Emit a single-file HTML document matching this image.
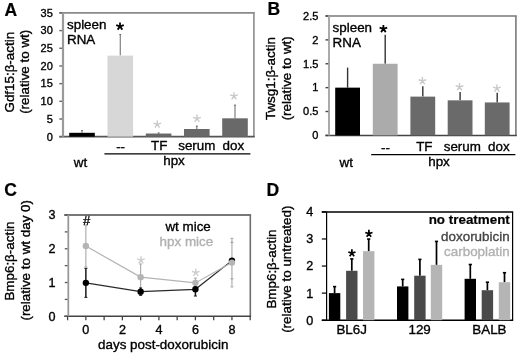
<!DOCTYPE html>
<html><head><meta charset="utf-8"><style>
html,body{margin:0;padding:0;background:#fff;overflow:hidden;}
body{filter:grayscale(1);}
svg{display:block;font-family:"Liberation Sans", sans-serif;}
</style></head><body>
<svg width="520" height="355" viewBox="0 0 520 355">
<rect width="520" height="355" fill="#fff"/>
<text transform="translate(4.4 15.6)" font-size="17.5" font-weight="bold" stroke="#000" stroke-width="0.2">A</text>
<line x1="59.30" y1="12.90" x2="254.80" y2="12.90" stroke="#8a8a8a" stroke-width="1.7"/>
<line x1="253.90" y1="12.90" x2="253.90" y2="136.70" stroke="#999" stroke-width="1.8"/>
<line x1="59.30" y1="136.70" x2="254.80" y2="136.70" stroke="#555" stroke-width="1.7"/>
<line x1="63.00" y1="12.90" x2="63.00" y2="136.70" stroke="#9a9a9a" stroke-width="2.2"/>
<line x1="59.30" y1="136.70" x2="62.00" y2="136.70" stroke="#666" stroke-width="1.4"/>
<text transform="translate(52.8 140.5)" font-size="11" text-anchor="end" stroke="#000" stroke-width="0.35">0</text>
<line x1="59.30" y1="119.01" x2="62.00" y2="119.01" stroke="#666" stroke-width="1.4"/>
<text transform="translate(52.8 122.8142857142857)" font-size="11" text-anchor="end" stroke="#000" stroke-width="0.35">5</text>
<line x1="59.30" y1="101.33" x2="62.00" y2="101.33" stroke="#666" stroke-width="1.4"/>
<text transform="translate(52.8 105.12857142857142)" font-size="11" text-anchor="end" stroke="#000" stroke-width="0.35">10</text>
<line x1="59.30" y1="83.64" x2="62.00" y2="83.64" stroke="#666" stroke-width="1.4"/>
<text transform="translate(52.8 87.44285714285714)" font-size="11" text-anchor="end" stroke="#000" stroke-width="0.35">15</text>
<line x1="59.30" y1="65.96" x2="62.00" y2="65.96" stroke="#666" stroke-width="1.4"/>
<text transform="translate(52.8 69.75714285714285)" font-size="11" text-anchor="end" stroke="#000" stroke-width="0.35">20</text>
<line x1="59.30" y1="48.27" x2="62.00" y2="48.27" stroke="#666" stroke-width="1.4"/>
<text transform="translate(52.8 52.07142857142857)" font-size="11" text-anchor="end" stroke="#000" stroke-width="0.35">25</text>
<line x1="59.30" y1="30.59" x2="62.00" y2="30.59" stroke="#666" stroke-width="1.4"/>
<text transform="translate(52.8 34.385714285714286)" font-size="11" text-anchor="end" stroke="#000" stroke-width="0.35">30</text>
<line x1="59.30" y1="12.90" x2="62.00" y2="12.90" stroke="#666" stroke-width="1.4"/>
<text transform="translate(52.8 16.700000000000006)" font-size="11" text-anchor="end" stroke="#000" stroke-width="0.35">35</text>
<line x1="82.00" y1="130.19" x2="82.00" y2="132.81" stroke="#858585" stroke-width="1.25"/>
<line x1="81.10" y1="130.59" x2="82.90" y2="130.59" stroke="#666" stroke-width="1.0"/>
<rect x="69.20" y="132.81" width="25.60" height="3.89" fill="#000"/>
<line x1="120.30" y1="34.19" x2="120.30" y2="55.59" stroke="#858585" stroke-width="1.25"/>
<line x1="119.40" y1="34.59" x2="121.20" y2="34.59" stroke="#666" stroke-width="1.0"/>
<rect x="107.50" y="55.59" width="25.60" height="81.11" fill="#d7d7d7"/>
<line x1="158.60" y1="132.60" x2="158.60" y2="133.52" stroke="#858585" stroke-width="1.25"/>
<line x1="157.70" y1="133.00" x2="159.50" y2="133.00" stroke="#666" stroke-width="1.0"/>
<rect x="145.80" y="133.52" width="25.60" height="3.18" fill="#696969"/>
<line x1="196.80" y1="125.81" x2="196.80" y2="128.99" stroke="#858585" stroke-width="1.25"/>
<line x1="195.90" y1="126.21" x2="197.70" y2="126.21" stroke="#666" stroke-width="1.0"/>
<rect x="184.00" y="128.99" width="25.60" height="7.71" fill="#696969"/>
<line x1="235.00" y1="104.76" x2="235.00" y2="118.31" stroke="#858585" stroke-width="1.25"/>
<line x1="234.10" y1="105.16" x2="235.90" y2="105.16" stroke="#666" stroke-width="1.0"/>
<rect x="222.20" y="118.31" width="25.60" height="18.39" fill="#696969"/>
<path d="M120.00,26.38L120.00,22.38M120.00,26.38L123.80,25.14M120.00,26.38L122.35,29.62M120.00,26.38L117.65,29.62M120.00,26.38L116.20,25.14" stroke="#000" stroke-width="1.75" fill="none"/>
<path d="M157.30,124.38L157.30,120.38M157.30,124.38L161.10,123.14M157.30,124.38L159.65,127.62M157.30,124.38L154.95,127.62M157.30,124.38L153.50,123.14" stroke="#c8c8c8" stroke-width="1.35" fill="none"/>
<path d="M197.00,118.58L197.00,114.58M197.00,118.58L200.80,117.34M197.00,118.58L199.35,121.82M197.00,118.58L194.65,121.82M197.00,118.58L193.20,117.34" stroke="#c8c8c8" stroke-width="1.35" fill="none"/>
<path d="M234.00,96.18L234.00,92.18M234.00,96.18L237.80,94.94M234.00,96.18L236.35,99.42M234.00,96.18L231.65,99.42M234.00,96.18L230.20,94.94" stroke="#c8c8c8" stroke-width="1.35" fill="none"/>
<text transform="translate(67.0 28.5)" font-size="13.4" stroke="#000" stroke-width="0.35">spleen</text>
<text transform="translate(67.0 43.7)" font-size="13.4" stroke="#000" stroke-width="0.35">RNA</text>
<text transform="translate(120.6 150.5)" font-size="13.4" text-anchor="middle" stroke="#000" stroke-width="0.35">--</text>
<text transform="translate(159.2 150.3)" font-size="13.4" text-anchor="middle" stroke="#000" stroke-width="0.35">TF</text>
<text transform="translate(196.8 150.3)" font-size="13.4" text-anchor="middle" stroke="#000" stroke-width="0.35">serum</text>
<text transform="translate(233.3 150.3)" font-size="13.4" text-anchor="middle" stroke="#000" stroke-width="0.35">dox</text>
<line x1="104.40" y1="153.80" x2="250.40" y2="153.80" stroke="#000" stroke-width="1.3"/>
<text transform="translate(80.5 166.7)" font-size="13.4" text-anchor="middle" stroke="#000" stroke-width="0.35">wt</text>
<text transform="translate(174.0 165.4)" font-size="13.4" text-anchor="middle" stroke="#000" stroke-width="0.35">hpx</text>
<text transform="translate(13.5 72.2) rotate(-90)" font-size="13.4" text-anchor="middle" stroke="#000" stroke-width="0.35">Gdf15:&#946;-actin</text>
<text transform="translate(29.3 71.8) rotate(-90)" font-size="13.4" text-anchor="middle" stroke="#000" stroke-width="0.35">(relative to wt)</text>
<text transform="translate(267.6 15.0)" font-size="17.5" font-weight="bold" stroke="#000" stroke-width="0.2">B</text>
<line x1="325.50" y1="16.00" x2="516.80" y2="16.00" stroke="#999" stroke-width="1.8"/>
<line x1="515.90" y1="16.00" x2="515.90" y2="135.40" stroke="#888" stroke-width="1.8"/>
<line x1="325.50" y1="135.40" x2="516.80" y2="135.40" stroke="#444" stroke-width="1.5"/>
<line x1="329.00" y1="16.00" x2="329.00" y2="135.40" stroke="#aaa" stroke-width="2.0"/>
<line x1="325.50" y1="135.40" x2="328.20" y2="135.40" stroke="#444" stroke-width="1.4"/>
<text transform="translate(318.4 139.20000000000002)" font-size="11" text-anchor="end" stroke="#000" stroke-width="0.35">0</text>
<line x1="325.50" y1="111.52" x2="328.20" y2="111.52" stroke="#444" stroke-width="1.4"/>
<text transform="translate(318.4 115.32000000000001)" font-size="11" text-anchor="end" stroke="#000" stroke-width="0.35">0.5</text>
<line x1="325.50" y1="87.64" x2="328.20" y2="87.64" stroke="#444" stroke-width="1.4"/>
<text transform="translate(318.4 91.44)" font-size="11" text-anchor="end" stroke="#000" stroke-width="0.35">1</text>
<line x1="325.50" y1="63.76" x2="328.20" y2="63.76" stroke="#444" stroke-width="1.4"/>
<text transform="translate(318.4 67.55999999999999)" font-size="11" text-anchor="end" stroke="#000" stroke-width="0.35">1.5</text>
<line x1="325.50" y1="39.88" x2="328.20" y2="39.88" stroke="#444" stroke-width="1.4"/>
<text transform="translate(318.4 43.67999999999999)" font-size="11" text-anchor="end" stroke="#000" stroke-width="0.35">2</text>
<line x1="325.50" y1="16.00" x2="328.20" y2="16.00" stroke="#444" stroke-width="1.4"/>
<text transform="translate(318.4 19.8)" font-size="11" text-anchor="end" stroke="#000" stroke-width="0.35">2.5</text>
<line x1="347.60" y1="67.58" x2="347.60" y2="87.64" stroke="#333" stroke-width="1.4"/>
<rect x="335.20" y="87.64" width="24.80" height="47.76" fill="#000"/>
<line x1="385.20" y1="34.63" x2="385.20" y2="63.76" stroke="#333" stroke-width="1.4"/>
<rect x="372.80" y="63.76" width="24.80" height="71.64" fill="#ababab"/>
<line x1="422.80" y1="86.21" x2="422.80" y2="96.62" stroke="#333" stroke-width="1.4"/>
<rect x="410.40" y="96.62" width="24.80" height="38.78" fill="#6a6a6a"/>
<line x1="460.10" y1="92.08" x2="460.10" y2="100.34" stroke="#333" stroke-width="1.4"/>
<rect x="447.70" y="100.34" width="24.80" height="35.06" fill="#6a6a6a"/>
<line x1="497.20" y1="92.70" x2="497.20" y2="102.45" stroke="#333" stroke-width="1.4"/>
<rect x="484.80" y="102.45" width="24.80" height="32.95" fill="#6a6a6a"/>
<path d="M383.40,28.88L383.40,24.88M383.40,28.88L387.20,27.64M383.40,28.88L385.75,32.12M383.40,28.88L381.05,32.12M383.40,28.88L379.60,27.64" stroke="#000" stroke-width="1.75" fill="none"/>
<path d="M422.40,80.98L422.40,76.98M422.40,80.98L426.20,79.74M422.40,80.98L424.75,84.22M422.40,80.98L420.05,84.22M422.40,80.98L418.60,79.74" stroke="#c8c8c8" stroke-width="1.35" fill="none"/>
<path d="M459.50,86.98L459.50,82.98M459.50,86.98L463.30,85.74M459.50,86.98L461.85,90.22M459.50,86.98L457.15,90.22M459.50,86.98L455.70,85.74" stroke="#c8c8c8" stroke-width="1.35" fill="none"/>
<path d="M496.90,88.38L496.90,84.38M496.90,88.38L500.70,87.14M496.90,88.38L499.25,91.62M496.90,88.38L494.55,91.62M496.90,88.38L493.10,87.14" stroke="#c8c8c8" stroke-width="1.35" fill="none"/>
<text transform="translate(332.6 31.9)" font-size="13.4" stroke="#000" stroke-width="0.35">spleen</text>
<text transform="translate(332.6 47.2)" font-size="13.4" stroke="#000" stroke-width="0.35">RNA</text>
<text transform="translate(385.5 151.5)" font-size="13.4" text-anchor="middle" stroke="#000" stroke-width="0.35">--</text>
<text transform="translate(424.3 151.1)" font-size="13.4" text-anchor="middle" stroke="#000" stroke-width="0.35">TF</text>
<text transform="translate(462.3 151.1)" font-size="13.4" text-anchor="middle" stroke="#000" stroke-width="0.35">serum</text>
<text transform="translate(498.9 151.1)" font-size="13.4" text-anchor="middle" stroke="#000" stroke-width="0.35">dox</text>
<line x1="371.20" y1="154.70" x2="515.40" y2="154.70" stroke="#000" stroke-width="1.3"/>
<text transform="translate(346.2 167.2)" font-size="13.4" text-anchor="middle" stroke="#000" stroke-width="0.35">wt</text>
<text transform="translate(439.0 166.3)" font-size="13.4" text-anchor="middle" stroke="#000" stroke-width="0.35">hpx</text>
<text transform="translate(274.6 78.6) rotate(-90)" font-size="13.4" text-anchor="middle" stroke="#000" stroke-width="0.35">Twsg1:&#946;-actin</text>
<text transform="translate(290.8 78.3) rotate(-90)" font-size="13.4" text-anchor="middle" stroke="#000" stroke-width="0.35">(relative to wt)</text>
<text transform="translate(4.3 196.3)" font-size="17.5" font-weight="bold" stroke="#000" stroke-width="0.2">C</text>
<line x1="64.20" y1="215.00" x2="251.10" y2="215.00" stroke="#777" stroke-width="1.9"/>
<line x1="250.30" y1="215.00" x2="250.30" y2="316.30" stroke="#6e6e6e" stroke-width="1.6"/>
<line x1="64.20" y1="316.30" x2="251.10" y2="316.30" stroke="#444" stroke-width="1.6"/>
<line x1="68.30" y1="215.00" x2="68.30" y2="316.30" stroke="#999" stroke-width="1.8"/>
<line x1="64.80" y1="316.30" x2="67.50" y2="316.30" stroke="#555" stroke-width="1.3"/>
<text transform="translate(55.4 320.7)" font-size="12.6" text-anchor="end" stroke="#000" stroke-width="0.35">0</text>
<line x1="64.80" y1="299.42" x2="67.50" y2="299.42" stroke="#555" stroke-width="1.3"/>
<line x1="64.80" y1="282.53" x2="67.50" y2="282.53" stroke="#555" stroke-width="1.3"/>
<text transform="translate(55.4 286.93333333333334)" font-size="12.6" text-anchor="end" stroke="#000" stroke-width="0.35">1</text>
<line x1="64.80" y1="265.65" x2="67.50" y2="265.65" stroke="#555" stroke-width="1.3"/>
<line x1="64.80" y1="248.77" x2="67.50" y2="248.77" stroke="#555" stroke-width="1.3"/>
<text transform="translate(55.4 253.16666666666666)" font-size="12.6" text-anchor="end" stroke="#000" stroke-width="0.35">2</text>
<line x1="64.80" y1="231.88" x2="67.50" y2="231.88" stroke="#555" stroke-width="1.3"/>
<line x1="64.80" y1="215.00" x2="67.50" y2="215.00" stroke="#555" stroke-width="1.3"/>
<text transform="translate(55.4 219.4)" font-size="12.6" text-anchor="end" stroke="#000" stroke-width="0.35">3</text>
<line x1="67.60" y1="316.30" x2="67.60" y2="320.30" stroke="#444" stroke-width="1.3"/>
<line x1="85.86" y1="316.30" x2="85.86" y2="320.30" stroke="#444" stroke-width="1.3"/>
<text transform="translate(85.85999999999999 334.3)" font-size="12.6" text-anchor="middle" stroke="#000" stroke-width="0.35">0</text>
<line x1="104.12" y1="316.30" x2="104.12" y2="320.30" stroke="#444" stroke-width="1.3"/>
<line x1="122.38" y1="316.30" x2="122.38" y2="320.30" stroke="#444" stroke-width="1.3"/>
<text transform="translate(122.38 334.3)" font-size="12.6" text-anchor="middle" stroke="#000" stroke-width="0.35">2</text>
<line x1="140.64" y1="316.30" x2="140.64" y2="320.30" stroke="#444" stroke-width="1.3"/>
<line x1="158.90" y1="316.30" x2="158.90" y2="320.30" stroke="#444" stroke-width="1.3"/>
<text transform="translate(158.89999999999998 334.3)" font-size="12.6" text-anchor="middle" stroke="#000" stroke-width="0.35">4</text>
<line x1="177.16" y1="316.30" x2="177.16" y2="320.30" stroke="#444" stroke-width="1.3"/>
<line x1="195.42" y1="316.30" x2="195.42" y2="320.30" stroke="#444" stroke-width="1.3"/>
<text transform="translate(195.42 334.3)" font-size="12.6" text-anchor="middle" stroke="#000" stroke-width="0.35">6</text>
<line x1="213.68" y1="316.30" x2="213.68" y2="320.30" stroke="#444" stroke-width="1.3"/>
<line x1="231.94" y1="316.30" x2="231.94" y2="320.30" stroke="#444" stroke-width="1.3"/>
<text transform="translate(231.93999999999997 334.3)" font-size="12.6" text-anchor="middle" stroke="#000" stroke-width="0.35">8</text>
<line x1="250.20" y1="316.30" x2="250.20" y2="320.30" stroke="#444" stroke-width="1.3"/>
<text transform="translate(163.2 349)" font-size="13.4" text-anchor="middle" stroke="#000" stroke-width="0.35">days post-doxorubicin</text>
<line x1="85.86" y1="225.13" x2="85.86" y2="267.00" stroke="#a8a8a8" stroke-width="1.1"/>
<line x1="84.36" y1="225.13" x2="87.36" y2="225.13" stroke="#a8a8a8" stroke-width="1"/>
<line x1="84.36" y1="267.00" x2="87.36" y2="267.00" stroke="#a8a8a8" stroke-width="1"/>
<line x1="140.64" y1="263.96" x2="140.64" y2="290.30" stroke="#a8a8a8" stroke-width="1.1"/>
<line x1="139.14" y1="263.96" x2="142.14" y2="263.96" stroke="#a8a8a8" stroke-width="1"/>
<line x1="139.14" y1="290.30" x2="142.14" y2="290.30" stroke="#a8a8a8" stroke-width="1"/>
<line x1="195.42" y1="278.14" x2="195.42" y2="287.60" stroke="#a8a8a8" stroke-width="1.1"/>
<line x1="193.92" y1="278.14" x2="196.92" y2="278.14" stroke="#a8a8a8" stroke-width="1"/>
<line x1="193.92" y1="287.60" x2="196.92" y2="287.60" stroke="#a8a8a8" stroke-width="1"/>
<line x1="231.94" y1="238.30" x2="231.94" y2="286.92" stroke="#a8a8a8" stroke-width="1.1"/>
<line x1="230.44" y1="238.30" x2="233.44" y2="238.30" stroke="#a8a8a8" stroke-width="1"/>
<line x1="230.44" y1="286.92" x2="233.44" y2="286.92" stroke="#a8a8a8" stroke-width="1"/>
<line x1="85.86" y1="268.35" x2="85.86" y2="297.39" stroke="#1a1a1a" stroke-width="1.5"/>
<line x1="84.36" y1="268.35" x2="87.36" y2="268.35" stroke="#1a1a1a" stroke-width="1"/>
<line x1="84.36" y1="297.39" x2="87.36" y2="297.39" stroke="#1a1a1a" stroke-width="1"/>
<line x1="140.64" y1="287.94" x2="140.64" y2="295.36" stroke="#1a1a1a" stroke-width="1.5"/>
<line x1="139.14" y1="287.94" x2="142.14" y2="287.94" stroke="#1a1a1a" stroke-width="1"/>
<line x1="139.14" y1="295.36" x2="142.14" y2="295.36" stroke="#1a1a1a" stroke-width="1"/>
<line x1="195.42" y1="282.53" x2="195.42" y2="296.04" stroke="#1a1a1a" stroke-width="1.5"/>
<line x1="193.92" y1="282.53" x2="196.92" y2="282.53" stroke="#1a1a1a" stroke-width="1"/>
<line x1="193.92" y1="296.04" x2="196.92" y2="296.04" stroke="#1a1a1a" stroke-width="1"/>
<line x1="230.44" y1="242.35" x2="233.44" y2="242.35" stroke="#999" stroke-width="1"/>
<line x1="230.44" y1="278.82" x2="233.44" y2="278.82" stroke="#999" stroke-width="1"/>
<polyline points="85.9,282.9 140.6,291.7 195.4,289.3 231.9,260.6" fill="none" stroke="#2a2a2a" stroke-width="1.2"/>
<circle cx="85.86" cy="282.87" r="3.2" fill="#000"/>
<circle cx="140.64" cy="291.65" r="3.2" fill="#000"/>
<circle cx="195.42" cy="289.29" r="3.2" fill="#000"/>
<circle cx="231.94" cy="260.58" r="3.2" fill="#000"/>
<polyline points="85.9,246.1 140.6,277.1 195.4,282.9 231.9,262.6" fill="none" stroke="#b4b4b4" stroke-width="1.2"/>
<circle cx="85.86" cy="246.07" r="3.2" fill="#b4b4b4"/>
<circle cx="140.64" cy="277.13" r="3.2" fill="#b4b4b4"/>
<circle cx="195.42" cy="282.87" r="3.2" fill="#b4b4b4"/>
<circle cx="231.94" cy="262.61" r="3.2" fill="#b4b4b4"/>
<text transform="translate(86.6 225.0)" font-size="13" text-anchor="middle" stroke="#000" stroke-width="0.35">#</text>
<path d="M141.00,260.18L141.00,256.18M141.00,260.18L144.80,258.94M141.00,260.18L143.35,263.42M141.00,260.18L138.65,263.42M141.00,260.18L137.20,258.94" stroke="#cccccc" stroke-width="1.35" fill="none"/>
<path d="M195.80,272.68L195.80,268.68M195.80,272.68L199.60,271.44M195.80,272.68L198.15,275.92M195.80,272.68L193.45,275.92M195.80,272.68L192.00,271.44" stroke="#cccccc" stroke-width="1.35" fill="none"/>
<text transform="translate(188.1 230.5)" font-size="13.4" text-anchor="middle" stroke="#000" stroke-width="0.35">wt mice</text>
<text transform="translate(186.4 245.8)" font-size="13.4" text-anchor="middle" fill="#b0b0b0" stroke="#b0b0b0" stroke-width="0.35">hpx mice</text>
<text transform="translate(13.8 261.0) rotate(-90)" font-size="13.4" text-anchor="middle" stroke="#000" stroke-width="0.35">Bmp6:&#946;-actin</text>
<text transform="translate(29.5 260.3) rotate(-90)" font-size="13.4" text-anchor="middle" stroke="#000" stroke-width="0.35">(relative to wt day 0)</text>
<text transform="translate(266.4 195.7)" font-size="17.5" font-weight="bold" stroke="#000" stroke-width="0.2">D</text>
<line x1="321.80" y1="211.90" x2="513.20" y2="211.90" stroke="#000" stroke-width="1.5"/>
<line x1="512.60" y1="211.90" x2="512.60" y2="320.20" stroke="#000" stroke-width="1.2"/>
<line x1="321.80" y1="320.20" x2="513.20" y2="320.20" stroke="#000" stroke-width="1.5"/>
<line x1="326.60" y1="211.90" x2="326.60" y2="320.20" stroke="#000" stroke-width="1.2"/>
<line x1="321.80" y1="320.20" x2="326.60" y2="320.20" stroke="#000" stroke-width="1.2"/>
<text transform="translate(313.3 324.59999999999997)" font-size="12.6" text-anchor="end" stroke="#000" stroke-width="0.35">0</text>
<line x1="321.80" y1="293.12" x2="326.60" y2="293.12" stroke="#000" stroke-width="1.2"/>
<text transform="translate(313.3 297.525)" font-size="12.6" text-anchor="end" stroke="#000" stroke-width="0.35">1</text>
<line x1="321.80" y1="266.05" x2="326.60" y2="266.05" stroke="#000" stroke-width="1.2"/>
<text transform="translate(313.3 270.45)" font-size="12.6" text-anchor="end" stroke="#000" stroke-width="0.35">2</text>
<line x1="321.80" y1="238.97" x2="326.60" y2="238.97" stroke="#000" stroke-width="1.2"/>
<text transform="translate(313.3 243.375)" font-size="12.6" text-anchor="end" stroke="#000" stroke-width="0.35">3</text>
<line x1="321.80" y1="211.90" x2="326.60" y2="211.90" stroke="#000" stroke-width="1.2"/>
<text transform="translate(313.3 216.3)" font-size="12.6" text-anchor="end" stroke="#000" stroke-width="0.35">4</text>
<line x1="334.60" y1="286.63" x2="334.60" y2="293.12" stroke="#000" stroke-width="1.7"/>
<line x1="333.00" y1="286.63" x2="336.20" y2="286.63" stroke="#000" stroke-width="1.6"/>
<rect x="328.90" y="293.12" width="11.40" height="27.07" fill="#000"/>
<line x1="351.80" y1="258.90" x2="351.80" y2="270.79" stroke="#000" stroke-width="1.7"/>
<line x1="350.20" y1="258.90" x2="353.40" y2="258.90" stroke="#000" stroke-width="1.6"/>
<rect x="346.10" y="270.79" width="11.40" height="49.41" fill="#4a4a4a"/>
<line x1="368.70" y1="239.06" x2="368.70" y2="251.16" stroke="#000" stroke-width="1.7"/>
<line x1="367.10" y1="239.06" x2="370.30" y2="239.06" stroke="#000" stroke-width="1.6"/>
<rect x="363.00" y="251.16" width="11.40" height="69.04" fill="#b5b5b5"/>
<line x1="402.70" y1="279.40" x2="402.70" y2="286.41" stroke="#000" stroke-width="1.7"/>
<line x1="401.10" y1="279.40" x2="404.30" y2="279.40" stroke="#000" stroke-width="1.6"/>
<rect x="397.00" y="286.41" width="11.40" height="33.79" fill="#000"/>
<line x1="419.90" y1="259.39" x2="419.90" y2="275.69" stroke="#000" stroke-width="1.7"/>
<line x1="418.30" y1="259.39" x2="421.50" y2="259.39" stroke="#000" stroke-width="1.6"/>
<rect x="414.20" y="275.69" width="11.40" height="44.51" fill="#4a4a4a"/>
<line x1="436.50" y1="241.41" x2="436.50" y2="264.89" stroke="#000" stroke-width="1.7"/>
<line x1="434.90" y1="241.41" x2="438.10" y2="241.41" stroke="#000" stroke-width="1.6"/>
<rect x="430.80" y="264.89" width="11.40" height="55.31" fill="#b5b5b5"/>
<line x1="470.30" y1="264.51" x2="470.30" y2="278.80" stroke="#000" stroke-width="1.7"/>
<line x1="468.70" y1="264.51" x2="471.90" y2="264.51" stroke="#000" stroke-width="1.6"/>
<rect x="464.60" y="278.80" width="11.40" height="41.40" fill="#000"/>
<line x1="487.40" y1="282.21" x2="487.40" y2="290.20" stroke="#000" stroke-width="1.7"/>
<line x1="485.80" y1="282.21" x2="489.00" y2="282.21" stroke="#000" stroke-width="1.6"/>
<rect x="481.70" y="290.20" width="11.40" height="30.00" fill="#4a4a4a"/>
<line x1="504.50" y1="272.71" x2="504.50" y2="282.21" stroke="#000" stroke-width="1.7"/>
<line x1="502.90" y1="272.71" x2="506.10" y2="272.71" stroke="#000" stroke-width="1.6"/>
<rect x="498.80" y="282.21" width="11.40" height="37.99" fill="#b5b5b5"/>
<path d="M351.90,253.16L351.90,249.36M351.90,253.16L355.51,251.99M351.90,253.16L354.13,256.24M351.90,253.16L349.67,256.24M351.90,253.16L348.29,251.99" stroke="#000" stroke-width="1.75" fill="none"/>
<path d="M368.90,233.66L368.90,229.86M368.90,233.66L372.51,232.49M368.90,233.66L371.13,236.74M368.90,233.66L366.67,236.74M368.90,233.66L365.29,232.49" stroke="#000" stroke-width="1.75" fill="none"/>
<text transform="translate(351.7 334)" font-size="13.4" text-anchor="middle" stroke="#000" stroke-width="0.35">BL6J</text>
<text transform="translate(419.6 334)" font-size="13.4" text-anchor="middle" stroke="#000" stroke-width="0.35">129</text>
<text transform="translate(489.4 334)" font-size="13.4" text-anchor="middle" stroke="#000" stroke-width="0.35">BALB</text>
<text transform="translate(509.8 224.2)" font-size="13.4" text-anchor="end" font-weight="bold" stroke="#000" stroke-width="0.2">no treatment</text>
<text transform="translate(509.6 240.6)" font-size="13.4" text-anchor="end" fill="#444" stroke="#444" stroke-width="0.35">doxorubicin</text>
<text transform="translate(509.6 256.2)" font-size="13.4" text-anchor="end" fill="#b0b0b0" stroke="#b0b0b0" stroke-width="0.35">carboplatin</text>
<text transform="translate(275.7 269.0) rotate(-90)" font-size="13.4" text-anchor="middle" stroke="#000" stroke-width="0.35">Bmp6:&#946;-actin</text>
<text transform="translate(291.2 269.2) rotate(-90)" font-size="13.4" text-anchor="middle" stroke="#000" stroke-width="0.35">(relative to untreated)</text>
</svg>
</body></html>
